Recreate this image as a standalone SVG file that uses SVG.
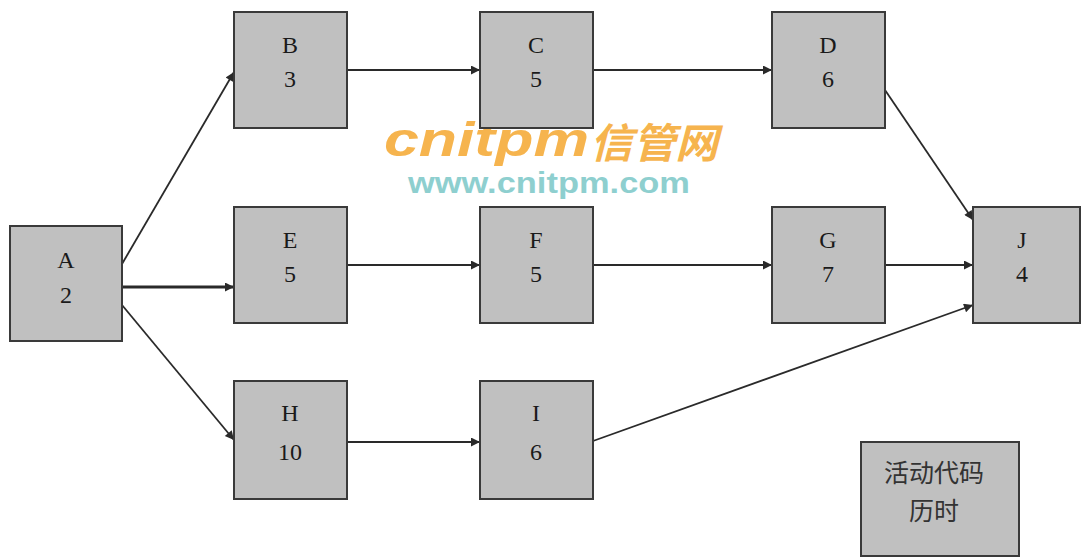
<svg xmlns="http://www.w3.org/2000/svg" width="1082" height="558" viewBox="0 0 1082 558">
<style>
.box{fill:#c0c0c0;stroke:#3a3a3a;stroke-width:2}
.t{font-family:"Liberation Serif","Times New Roman",serif;font-size:24px;fill:#1a1a1a;text-anchor:middle}
.cjk{font-family:"Liberation Sans","Noto Sans CJK SC",sans-serif;font-size:25px;fill:#333;text-anchor:middle}
.e{stroke:#2a2a2a;stroke-width:1.8;fill:none;marker-end:url(#ah)}
</style>
<defs>
<marker id="ah" viewBox="0 0 10 10" refX="10" refY="5" markerWidth="11" markerHeight="9" markerUnits="userSpaceOnUse" orient="auto">
<path d="M0,0 L10,5 L0,10 z" fill="#2a2a2a"/>
</marker>
</defs>
<rect width="1082" height="558" fill="#fff"/>
<g id="watermark">
<text x="384" y="156" textLength="205" lengthAdjust="spacingAndGlyphs" font-family="Liberation Sans,sans-serif" font-weight="bold" font-style="italic" font-size="48" fill="#f6b44e">cnitpm</text>
<text x="590" y="158" textLength="128" lengthAdjust="spacingAndGlyphs" font-family="Noto Sans CJK SC,sans-serif" font-weight="bold" font-style="italic" font-size="41" fill="#f6b44e">信管网</text>
<text x="408" y="193" textLength="282" lengthAdjust="spacingAndGlyphs" font-family="Liberation Sans,sans-serif" font-weight="bold" font-size="29" fill="#8ecfcf">www.cnitpm.com</text>
</g>
<g id="edges">
<line class="e" x1="122" y1="264" x2="234" y2="72"/>
<line class="e" x1="122" y1="287" x2="234" y2="287" style="stroke-width:3"/>
<line class="e" x1="122" y1="305" x2="234" y2="440"/>
<line class="e" x1="347" y1="70" x2="480" y2="70"/>
<line class="e" x1="593" y1="70" x2="772" y2="70"/>
<line class="e" x1="885" y1="90" x2="973" y2="220"/>
<line class="e" x1="347" y1="265" x2="480" y2="265"/>
<line class="e" x1="593" y1="265" x2="772" y2="265"/>
<line class="e" x1="885" y1="265" x2="973" y2="265"/>
<line class="e" x1="347" y1="442" x2="480" y2="442"/>
<line class="e" x1="593" y1="441" x2="973" y2="305"/>
</g>
<g id="A"><rect class="box" x="10" y="226" width="112" height="115"/><text class="t" x="66" y="268">A</text><text class="t" x="66" y="303">2</text></g>
<g id="B"><rect class="box" x="234" y="12" width="113" height="116"/><text class="t" x="290" y="53">B</text><text class="t" x="290" y="87">3</text></g>
<g id="C"><rect class="box" x="480" y="12" width="113" height="116"/><text class="t" x="536" y="53">C</text><text class="t" x="536" y="87">5</text></g>
<g id="D"><rect class="box" x="772" y="12" width="113" height="116"/><text class="t" x="828" y="53">D</text><text class="t" x="828" y="87">6</text></g>
<g id="E"><rect class="box" x="234" y="207" width="113" height="116"/><text class="t" x="290" y="248">E</text><text class="t" x="290" y="282">5</text></g>
<g id="F"><rect class="box" x="480" y="207" width="113" height="116"/><text class="t" x="536" y="248">F</text><text class="t" x="536" y="282">5</text></g>
<g id="G"><rect class="box" x="772" y="207" width="113" height="116"/><text class="t" x="828" y="248">G</text><text class="t" x="828" y="282">7</text></g>
<g id="J"><rect class="box" x="973" y="207" width="107" height="116"/><text class="t" x="1022" y="248">J</text><text class="t" x="1022" y="282">4</text></g>
<g id="H"><rect class="box" x="234" y="381" width="113" height="118"/><text class="t" x="290" y="421">H</text><text class="t" x="290" y="460">10</text></g>
<g id="I"><rect class="box" x="480" y="381" width="113" height="118"/><text class="t" x="536" y="421">I</text><text class="t" x="536" y="460">6</text></g>
<g id="legend"><rect class="box" x="861" y="442" width="158" height="114"/><text class="cjk" x="934" y="482">活动代码</text><text class="cjk" x="934" y="520">历时</text></g>
</svg>
